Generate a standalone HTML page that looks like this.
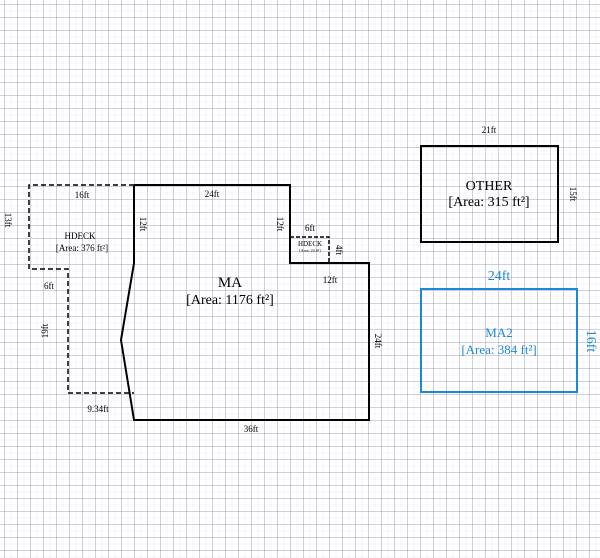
<!DOCTYPE html><html><head><style>
body{margin:0;width:600px;height:558px;overflow:hidden;background:#fff;
background-image:
linear-gradient(to right,rgba(140,140,170,.35) 1px,transparent 1px),
linear-gradient(to bottom,rgba(140,140,170,.35) 1px,transparent 1px),
linear-gradient(to right,rgba(170,170,200,.12) 1px,transparent 1px),
linear-gradient(to bottom,rgba(170,170,200,.12) 1px,transparent 1px);
background-size:13px 13px,13px 13px,6.5px 6.5px,6.5px 6.5px;background-position:4px 4px;}
svg{position:absolute;left:0;top:0}
text{font-family:"Liberation Serif",serif;fill:#000}
</style></head><body>
<svg width="600" height="558">
<polyline points="134,185 290,185 290,263 369,263 369,420 134,420 121,340 134,263 134,185" fill="none" stroke="#000" stroke-width="2"/>
<polyline points="134,185 29,185 29,269 68,269 68,393 134,393" fill="none" stroke="#000" stroke-width="1.5" stroke-dasharray="5,3"/>
<polyline points="290,237 329,237 329,263" fill="none" stroke="#000" stroke-width="1.5" stroke-dasharray="4,2"/>
<rect x="421" y="146" width="137" height="96" fill="none" stroke="#000" stroke-width="2"/>
<rect x="421" y="289" width="156" height="103" fill="none" stroke="#1e88d8" stroke-width="2"/>
<g font-size="9">
<text x="212" y="197" text-anchor="middle">24ft</text>
<text x="82" y="198" text-anchor="middle">16ft</text>
<text x="310" y="231" text-anchor="middle">6ft</text>
<text x="330" y="283" text-anchor="middle">12ft</text>
<text x="251" y="432" text-anchor="middle">36ft</text>
<text x="98" y="412" text-anchor="middle">9.34ft</text>
<text x="49" y="289" text-anchor="middle">6ft</text>
<text x="489" y="133" text-anchor="middle">21ft</text>
<text transform="translate(140,224) rotate(90)" text-anchor="middle">12ft</text>
<text transform="translate(277,224) rotate(90)" text-anchor="middle">12ft</text>
<text transform="translate(336,250) rotate(90)" text-anchor="middle">4ft</text>
<text transform="translate(375,341) rotate(90)" text-anchor="middle">24ft</text>
<text transform="translate(570,194) rotate(90)" text-anchor="middle">15ft</text>
<text transform="translate(5,220) rotate(90)" text-anchor="middle">13ft</text>
<text transform="translate(48,331) rotate(-90)" text-anchor="middle">19ft</text>
<text x="80" y="239" text-anchor="middle">HDECK</text>
<text x="82" y="251" text-anchor="middle">[Area: 376 ft²]</text>
</g>
<text x="310" y="246" text-anchor="middle" font-size="7">HDECK</text>
<text x="310" y="252" text-anchor="middle" font-size="4">[Area: 24 ft²]</text>
<text x="230" y="287" text-anchor="middle" font-size="15">MA</text>
<text x="230" y="304" text-anchor="middle" font-size="14">[Area: 1176 ft²]</text>
<text x="489" y="190" text-anchor="middle" font-size="14">OTHER</text>
<text x="489" y="206" text-anchor="middle" font-size="14">[Area: 315 ft²]</text>
<text x="499" y="280" text-anchor="middle" font-size="14" style="fill:#1e88d8">24ft</text>
<text x="499" y="337" text-anchor="middle" font-size="13" style="fill:#1e88d8">MA2</text>
<text x="499" y="354" text-anchor="middle" font-size="13" style="fill:#1e88d8">[Area: 384 ft²]</text>
<text transform="translate(587,341) rotate(90)" text-anchor="middle" font-size="14" style="fill:#1e88d8">16ft</text>
</svg></body></html>
